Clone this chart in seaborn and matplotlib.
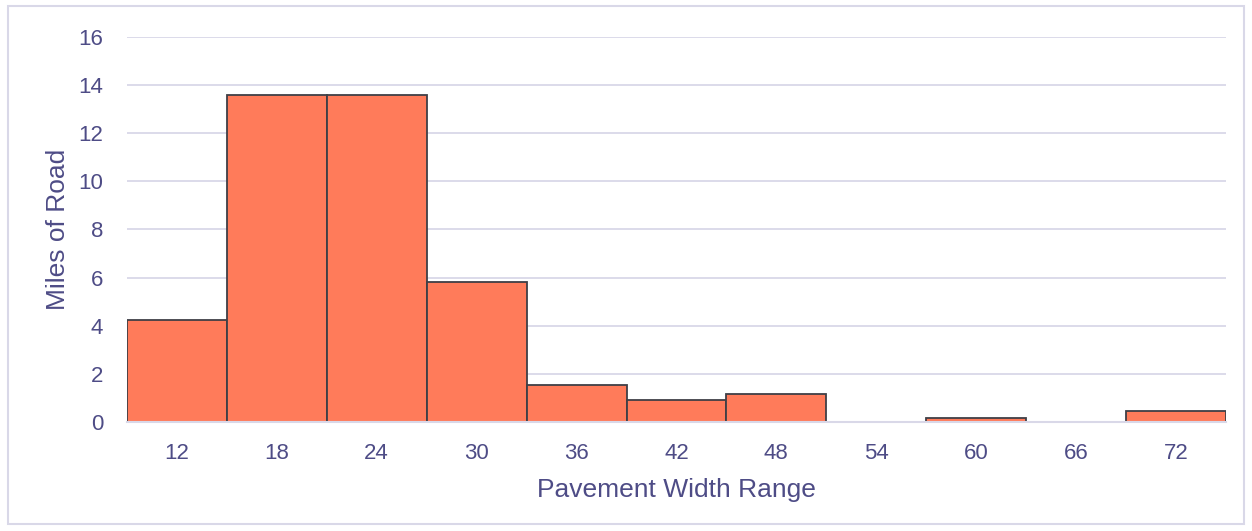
import pandas as pd
import matplotlib
matplotlib.use("Agg")
import matplotlib.pyplot as plt
import seaborn as sns

# data
widths = ["12", "18", "24", "30", "36", "42", "48", "54", "60", "66", "72"]
miles = [4.24, 13.59, 13.59, 5.82, 1.54, 0.91, 1.16, 0.0, 0.17, 0.0, 0.46]

TEXT = "#4E4C86"
GRID = "#D9D8E8"
BAR = "#FF7B5A"

sns.set_theme(style="white")
plt.rcParams["font.family"] = ["Liberation Sans", "DejaVu Sans"]

df = pd.DataFrame({"width": widths, "miles": miles})

fig = plt.figure(figsize=(12.52, 5.31), dpi=100)
ax = fig.add_axes([0.1014, 0.2053, 0.8778, 0.7250])

sns.barplot(data=df, x="width", y="miles", color=BAR, saturation=1,
            width=1.0, edgecolor="#3F3F46", linewidth=1.3, ax=ax, zorder=3)

ax.set_ylim(0, 16)
ax.set_xlim(-0.5, len(widths) - 0.5)
ax.set_yticks(range(0, 17, 2))
ax.yaxis.grid(True, color=GRID, linewidth=1.3, zorder=0)
ax.set_axisbelow(True)
for s in ["top", "right", "left"]:
    ax.spines[s].set_visible(False)
ax.spines["bottom"].set_color(GRID)
ax.spines["bottom"].set_linewidth(1.5)
ax.spines["bottom"].set_zorder(4)

ax.tick_params(axis="both", colors=TEXT, labelsize=16, length=0)
ax.tick_params(axis="x", pad=15)
ax.tick_params(axis="y", pad=17)
ax.set_xlabel("Pavement Width Range", color=TEXT, fontsize=19, labelpad=10)
ax.set_ylabel("Miles of Road", color=TEXT, fontsize=19, labelpad=6)

# light frame around the whole chart
fig.patches.append(plt.Rectangle((0.006, 0.013), 0.988, 0.975, transform=fig.transFigure,
                                 fill=False, edgecolor=GRID, linewidth=1.5))

fig.savefig("out.png", dpi=100)
